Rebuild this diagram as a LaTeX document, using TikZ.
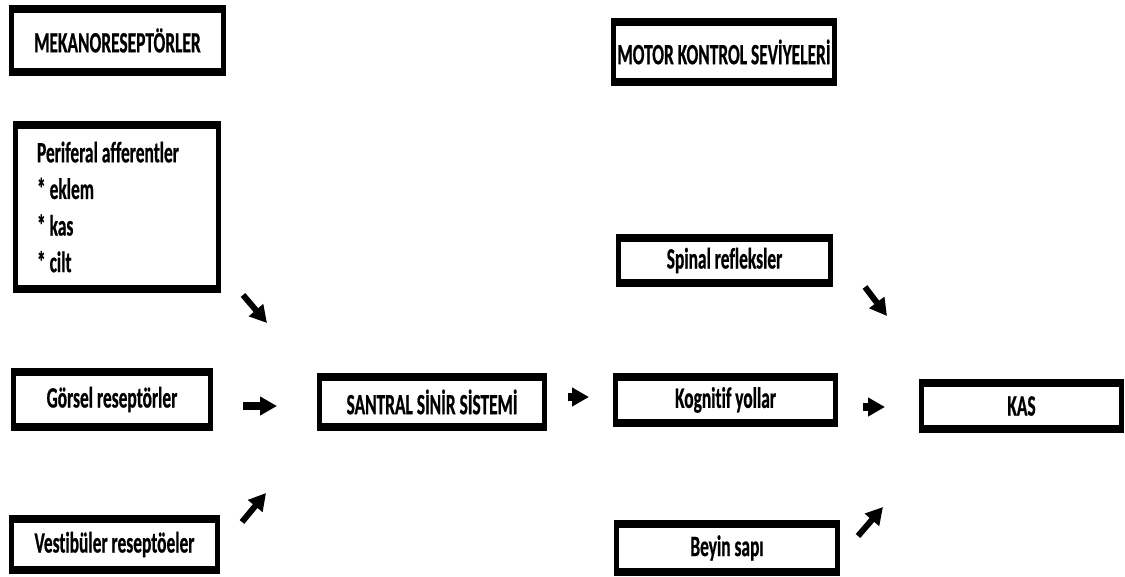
\documentclass[tikz,border=0pt]{standalone}
\usepackage{fontspec}
\newfontfamily\kutufont[FakeStretch=0.59,Ligatures=NoCommon,FakeBold=0.6]{Carlito}
\usetikzlibrary{arrows.meta}

\begin{document}
\begin{tikzpicture}[x=0.5pt,y=-0.5pt]
\tikzstyle{every node}+=[inner sep=0pt,outer sep=0pt]
\tikzstyle{kutu}=[fill=black,font=\kutufont\bfseries\fontsize{14.75}{18.3}\selectfont,
  path picture={\fill[white] ([xshift=2.5pt,yshift=-4pt]path picture bounding box.north west)
    rectangle ([xshift=-2.5pt,yshift=4pt]path picture bounding box.south east);}]
\tikzstyle{ok}=[line width=3pt,-{Triangle[length=8.5pt,width=9pt]}]
\useasboundingbox (0,0) rectangle (1125,577);
% sol taraf
\node[kutu,minimum width=108.5pt,minimum height=35.5pt] (meka) at (117.5,40.5) {MEKANORESEPTÖRLER};
\node[kutu,minimum width=104pt,minimum height=86pt,text width=80pt,inner xsep=12pt,align=left] (periferal) at (117,207)
  {\spaceskip=2pt\relax Periferal afferentler\\{*} eklem\\{*} kas\\{*} cilt};
\node[kutu,minimum width=101pt,minimum height=31.5pt] (gorsel) at (112,399.5) {Görsel reseptörler};
\node[kutu,minimum width=105.5pt,minimum height=29.5pt] (vestibuler) at (114.5,544.5) {Vestibüler reseptöeler};
% orta
\node[kutu,minimum width=115pt,minimum height=29pt] (sss) at (432,402) {SANTRAL SİNİR SİSTEMİ};
% sag taraf
\node[kutu,minimum width=113pt,minimum height=34pt] (motor) at (724,52) {MOTOR KONTROL SEVİYELERİ};
\node[kutu,minimum width=108.5pt,minimum height=26.5pt] (spinal) at (724.5,260.5) {Spinal refleksler};
\node[kutu,minimum width=112.5pt,minimum height=27pt] (kognitif) at (725.5,400) {Kognitif yollar};
\node[kutu,minimum width=113pt,minimum height=28pt] (beyin) at (727,548) {Beyin sapı};
\node[kutu,minimum width=102.5pt,minimum height=27pt] (kas) at (1021.5,406) {KAS};
% oklar
\coordinate (o1a) at (243,295); \coordinate (o1b) at (267,323);
\coordinate (o2a) at (243,406); \coordinate (o2b) at (277,406);
\coordinate (o3a) at (242,522); \coordinate (o3b) at (266,493);
\coordinate (o4a) at (568,397); \coordinate (o4b) at (589,397);
\coordinate (o5a) at (865,287); \coordinate (o5b) at (887,316);
\coordinate (o6a) at (863,407); \coordinate (o6b) at (885,407);
\coordinate (o7a) at (858,536); \coordinate (o7b) at (883,507);
\draw[ok] (o1a) -- (o1b);
\draw[ok,line width=4pt] (o2a) -- (o2b);
\draw[ok] (o3a) -- (o3b);
\draw[ok,line width=4pt] (o4a) -- (o4b);
\draw[ok] (o5a) -- (o5b);
\draw[ok,line width=4pt] (o6a) -- (o6b);
\draw[ok] (o7a) -- (o7b);
\end{tikzpicture}
\end{document}
